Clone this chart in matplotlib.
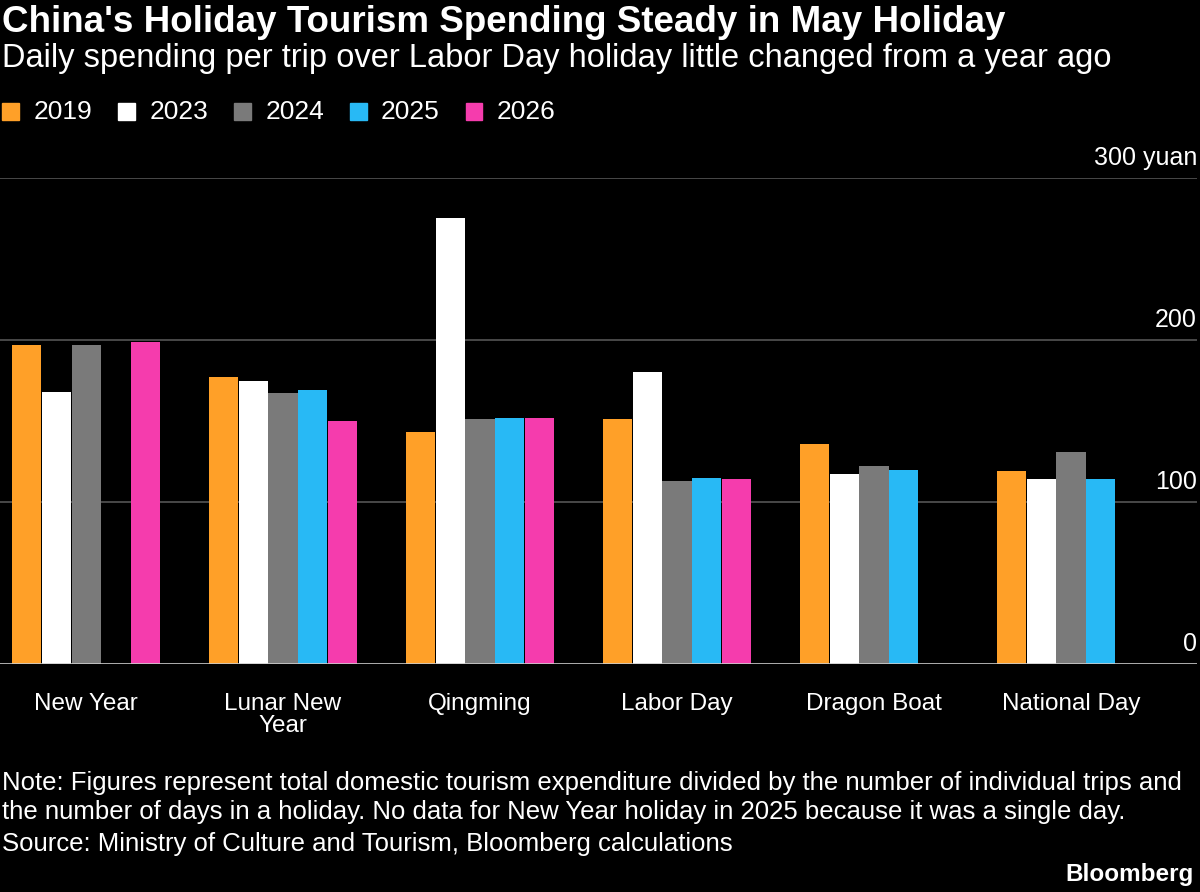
import matplotlib.pyplot as plt
import numpy as np

holidays = ["New Year", "Lunar New\nYear", "Qingming", "Labor Day", "Dragon Boat", "National Day"]
years = ["2019", "2023", "2024", "2025", "2026"]
colors = ["#ffa028", "#ffffff", "#7a7a7a", "#28b9f5", "#f53cad"]
nan = np.nan
spend = {
    "2019": [197, 177, 143, 151, 136, 119],
    "2023": [168, 175, 275, 180, 117, 114],
    "2024": [197, 167, 151, 113, 122, 131],
    "2025": [nan, 169, 152, 115, 120, 114],
    "2026": [199, 150, 152, 114, nan, nan],
}

plt.rcParams["font.family"] = ["Liberation Sans", "DejaVu Sans"]
fig = plt.figure(figsize=(12, 8.92), dpi=100, facecolor="black")
ax = fig.add_axes([0, 1 - 664 / 892, 0.9975, (664 - 178) / 892], facecolor="black")

x = np.arange(len(holidays))
w = 0.148
for i, y in enumerate(years):
    ax.bar(x + (i - 2) * 0.1515, spend[y], width=w, color=colors[i], zorder=3)

ax.set_xlim(-0.437, 5.64)
ax.set_ylim(0, 300)
for v in [100, 200, 300]:
    ax.axhline(v, color="#555555", lw=1.2, zorder=1)
ax.axhline(0, color="#cccccc", lw=1.2, zorder=4)
for v, t in [(0, "0"), (100, "100"), (200, "200"), (300, "300 yuan")]:
    ax.text(5.64, v + 5, t, color="white", fontsize=18, ha="right", va="bottom")
for s in ax.spines.values():
    s.set_visible(False)
ax.set_yticks([])
ax.set_xticks(x)
ax.set_xticklabels(holidays, color="white", fontsize=17.5, linespacing=1.0)
ax.tick_params(axis="x", length=0, pad=21)

fig.text(0.002, 0.975, "China's Holiday Tourism Spending Steady in May Holiday",
         color="white", fontsize=26.5, fontweight="bold", va="center")
fig.text(0.002, 0.934, "Daily spending per trip over Labor Day holiday little changed from a year ago",
         color="white", fontsize=23.5, va="center")
lx = 0.002
for y, c in zip(years, colors):
    fig.patches.append(plt.Rectangle((lx, 0.865), 0.014, 0.02, color=c, transform=fig.transFigure))
    fig.text(lx + 0.026, 0.874, y, color="white", fontsize=19, va="center")
    lx += 0.0965
fig.text(0.002, 0.106, "Note: Figures represent total domestic tourism expenditure divided by the number of individual trips and\n"
         "the number of days in a holiday. No data for New Year holiday in 2025 because it was a single day.",
         color="white", fontsize=18.5, va="center", linespacing=1.25)
fig.text(0.002, 0.054, "Source: Ministry of Culture and Tourism, Bloomberg calculations",
         color="white", fontsize=18.5, va="center")
fig.text(0.995, 0.02, "Bloomberg", color="white", fontsize=17.5, fontweight="bold", ha="right", va="center")

fig.savefig("out.png", facecolor="black")
